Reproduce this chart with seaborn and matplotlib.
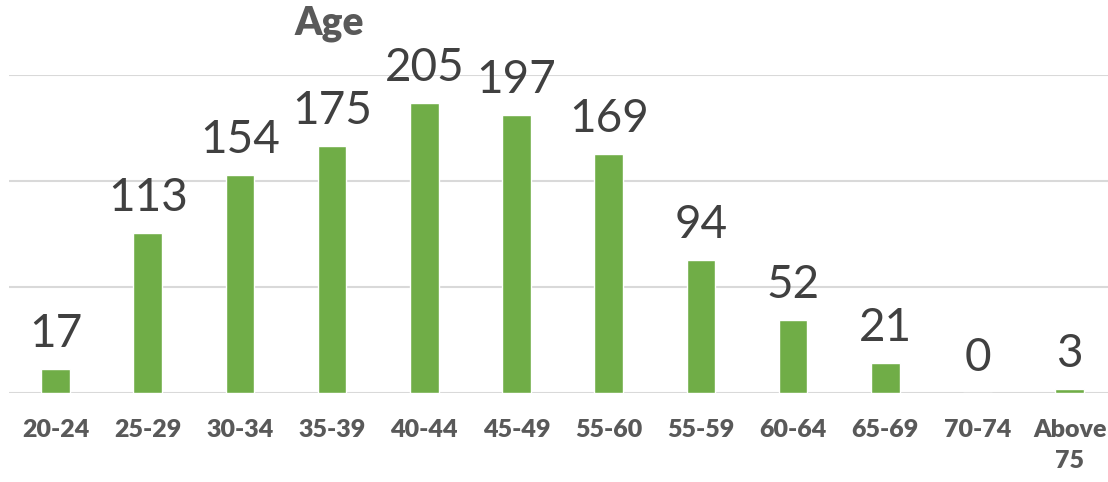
import numpy as np
import pandas as pd

import matplotlib
matplotlib.use("Agg")
import matplotlib.pyplot as plt
import seaborn as sns

categories = ["20-24", "25-29", "30-34", "35-39", "40-44", "45-49",
              "55-60", "55-59", "60-64", "65-69", "70-74", "Above\n75"]
counts = [17, 113, 154, 175, 205, 197, 169, 94, 52, 21, 0, 3]
grid_ticks = [0, 75, 150, 225]

df = pd.DataFrame({"age": categories, "count": counts})

sns.set_style("white")
plt.rcParams["font.family"] = ["Lato", "DejaVu Sans"]

fig = plt.figure(figsize=(11.08, 4.82), dpi=100)
ax = fig.add_axes([0.0085, 0.1846, 0.9915, 0.6598])

sns.barplot(data=df, x="age", y="count", color="#70AD47", width=0.31,
            saturation=1, ax=ax)

ax.set_ylim(0, 225)
ax.set_xlim(-0.5, 11.415)
ax.set_yticks(grid_ticks)
ax.set_yticklabels([])
ax.yaxis.grid(True, color="#D9D9D9", linewidth=1.5)
ax.set_axisbelow(True)
ax.tick_params(axis="y", length=0)
ax.tick_params(axis="x", length=0, pad=19, labelsize=18, labelcolor="#595959")
for lbl in ax.get_xticklabels():
    lbl.set_fontweight("heavy")
    lbl.set_linespacing(1.45)
ax.set_xlabel("")
ax.set_ylabel("")
sns.despine(ax=ax, left=True, bottom=True, top=True, right=True)

ax.bar_label(ax.containers[0], labels=[str(v) for v in counts], padding=10,
             fontsize=33, color="#404040", clip_on=False)

fig.text(0.297, 1 - 24 / 482, "Age", ha="center", va="center",
         fontsize=28, fontweight="heavy", color="#595959")

plt.savefig("out.png", dpi=100)
